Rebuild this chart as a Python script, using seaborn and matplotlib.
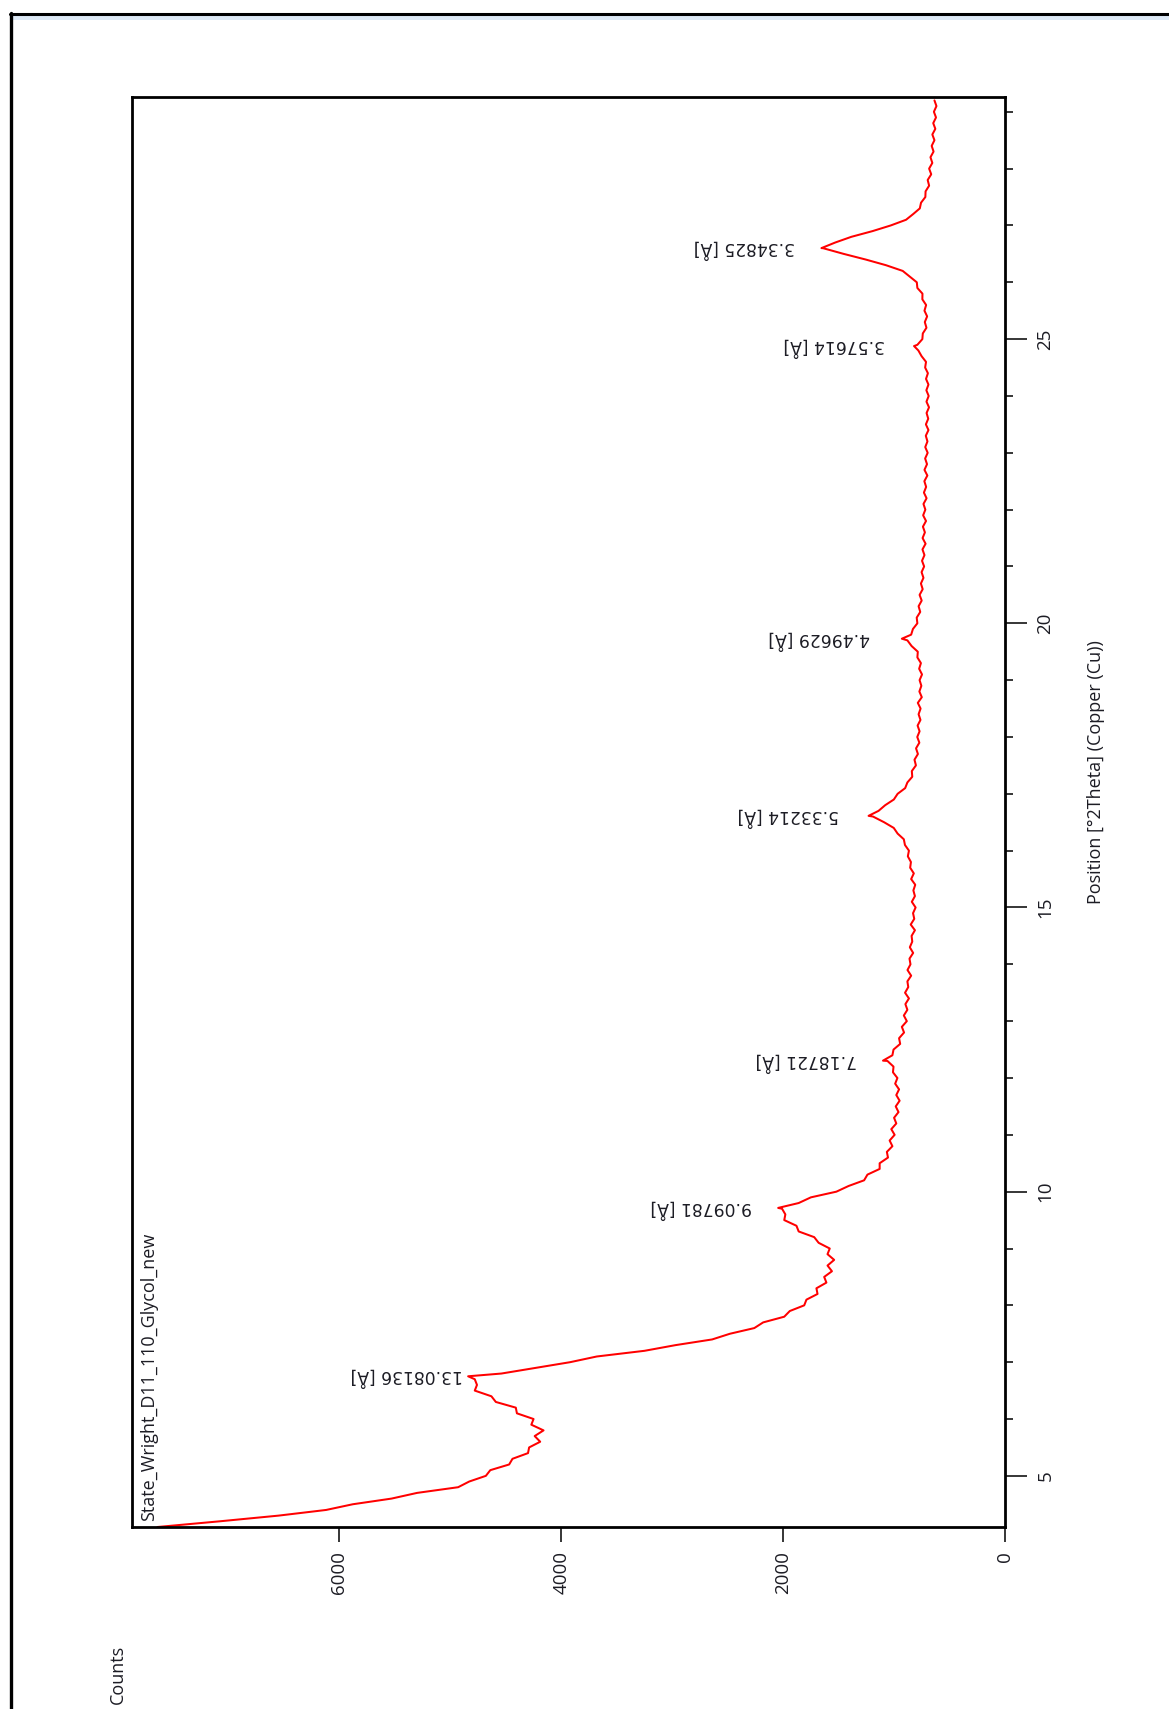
import numpy as np
import pandas as pd
import matplotlib
matplotlib.use("Agg")
import matplotlib.pyplot as plt
from matplotlib.lines import Line2D
from matplotlib.patches import Rectangle
from matplotlib.ticker import MultipleLocator, FixedLocator
import seaborn as sns

# ---- scan data (step scan, Cu K-alpha) ----
scan_start_deg = 4.1
scan_step_deg = 0.1
counts = [
    7640, 7080, 6550, 6120, 5880, 5530, 5300, 4930, 4830,
    4680, 4640, 4470, 4440, 4300, 4290, 4190, 4240, 4160, 4270,
    4250, 4400, 4410, 4590, 4630, 4780, 4760, 4780, 4540, 4230,
    3920, 3680, 3250, 2970, 2640, 2480, 2260, 2180, 1990, 1940,
    1810, 1790, 1690, 1700, 1610, 1630, 1560, 1600, 1540, 1600,
    1580, 1680, 1720, 1860, 1880, 1990, 1980, 2010, 1860, 1750,
    1520, 1410, 1270, 1240, 1130, 1130, 1055, 1065, 1015, 1040,
    995, 1025, 980, 1000, 960, 985, 950, 980, 955, 990,
    970, 1010, 1005, 1060, 1015, 1005, 945, 955, 910, 930,
    885, 912, 880, 898, 866, 901, 872, 880, 846, 879,
    852, 861, 828, 858, 836, 842, 812, 850, 818, 829,
    806, 840, 812, 826, 809, 846, 822, 855, 848, 876,
    866, 902, 912, 968, 1003, 1090, 1190, 1140, 1080, 1002,
    968, 900, 880, 836, 840, 803, 816, 785, 802, 772,
    791, 770, 788, 762, 779, 761, 786, 750, 772, 754,
    770, 748, 774, 758, 790, 786, 842, 880, 846, 830,
    790, 796, 764, 779, 751, 770, 742, 758, 735, 752,
    729, 748, 726, 744, 716, 743, 722, 740, 712, 738,
    718, 735, 707, 731, 711, 727, 700, 726, 703, 720,
    697, 719, 699, 714, 690, 713, 692, 707, 685, 708,
    688, 709, 690, 712, 695, 720, 712, 752, 781, 790,
    745, 741, 708, 723, 702, 726, 711, 745, 744, 790,
    795, 858, 922, 1072, 1255, 1455, 1640, 1530, 1385, 1195,
    1030, 892, 828, 768, 757, 718, 716, 684, 697, 665,
    684, 655, 672, 644, 661, 636, 655, 628, 647, 622,
    641, 618, 636,
]

# identified peaks: d-spacing [Å] and peak height [counts]
peak_d_spacing = [13.08136, 9.09781, 7.18721, 5.33214, 4.49629, 3.57614, 3.34825]
peak_heights = [4840, 2045, 1100, 1230, 930, 820, 1655]

count_ticks = [0, 2000, 4000, 6000]
sample_name = "State_Wright_D11_110_Glycol_new"
position_title = "Position [°2Theta] (Copper (Cu))"
counts_title = "Counts"
wavelength_cu = 1.5406  # Cu K-alpha1 [Å]

# ---- derived positions ----
two_theta = np.round(scan_start_deg + scan_step_deg * np.arange(len(counts)), 2)
peak_two_theta = 2.0 * np.degrees(np.arcsin(wavelength_cu / (2.0 * np.array(peak_d_spacing))))

scan = pd.DataFrame({"two_theta": two_theta, "counts": counts})
peaks = pd.DataFrame({"two_theta": peak_two_theta, "counts": peak_heights})
pattern = pd.concat([scan, peaks]).sort_values("two_theta").reset_index(drop=True)

# ---- style ----
sns.set_theme(style="white")
plt.rcParams["font.family"] = ["Open Sans", "DejaVu Sans"]
text_color = "#1c1c24"

W, H = 1169, 1709
fig = plt.figure(figsize=(W / 100, H / 100), dpi=100)
fig.patch.set_facecolor("white")

# window frame around the report page
fig.add_artist(Rectangle((11 / W, 1 - 20 / H), 1, 6 / H, transform=fig.transFigure,
                         facecolor="#dde9f6", edgecolor="none"))
fig.add_artist(Line2D([10 / W, 1], [1 - 13.5 / H, 1 - 13.5 / H], transform=fig.transFigure,
                      color="black", lw=2.2))
fig.add_artist(Line2D([10.5 / W, 10.5 / W], [0, 1 - 13 / H], transform=fig.transFigure,
                      color="black", lw=2.4))

ax = fig.add_axes([132 / W, 1 - 1527 / H, 873 / W, 1430 / H])
ax.set_facecolor("white")

sns.lineplot(data=pattern, x="counts", y="two_theta", orient="y", sort=True,
             estimator=None, color="#ff0000", lw=1.45, ax=ax, legend=False)

ax.set_xlim(7870, 0)
ax.set_ylim(4.10, 29.26)

for side in ["left", "right", "top", "bottom"]:
    ax.spines[side].set_visible(True)
    ax.spines[side].set_color("black")
    ax.spines[side].set_linewidth(2.0)

ax.xaxis.set_major_locator(FixedLocator(count_ticks))
ax.yaxis.set_major_locator(MultipleLocator(5))
ax.yaxis.set_minor_locator(MultipleLocator(1))

ax.tick_params(axis="y", which="major", direction="out", length=16, width=1.1,
               right=True, left=False, labelright=True, labelleft=False,
               labelrotation=90, pad=6.5, labelsize=13.5, colors="black",
               labelcolor=text_color)
ax.tick_params(axis="y", which="minor", direction="out", length=6, width=1.1,
               right=True, left=False, colors="black")
ax.tick_params(axis="x", which="major", direction="out", length=11, width=1.1,
               bottom=True, top=False, labelrotation=90, pad=6.5, labelsize=13.5,
               colors="black", labelcolor=text_color)
for lab in ax.get_yticklabels():
    lab.set_verticalalignment("center")

# axis titles
ax.yaxis.set_label_position("right")
ax.set_ylabel(position_title, rotation=90, fontsize=13, color=text_color,
              ha="center", va="center")
ax.yaxis.set_label_coords(1.104, 0.528)
ax.set_xlabel(counts_title, rotation=90, fontsize=13, color=text_color,
              ha="center", va="center")
ax.xaxis.set_label_coords(-0.016, -0.103)

# sample name inside the frame
ax.text(0.0195, 0.004, sample_name, transform=ax.transAxes, rotation=90,
        ha="center", va="bottom", fontsize=13, color=text_color)

# d-spacing labels next to each peak
label_gaps_pt = [3.5, 19, 19, 21, 23, 21, 19]
for d, tt, h, gap in zip(peak_d_spacing, peak_two_theta, peak_heights, label_gaps_pt):
    ax.annotate(f"{d:.5f} [Å]", xy=(h, tt), xytext=(-gap, 0), textcoords="offset points",
                rotation=180, rotation_mode="anchor", ha="left", va="center",
                fontsize=12.3, family=["DejaVu Sans"], color=text_color)

fig.savefig("out.png", dpi=100, facecolor="white")
